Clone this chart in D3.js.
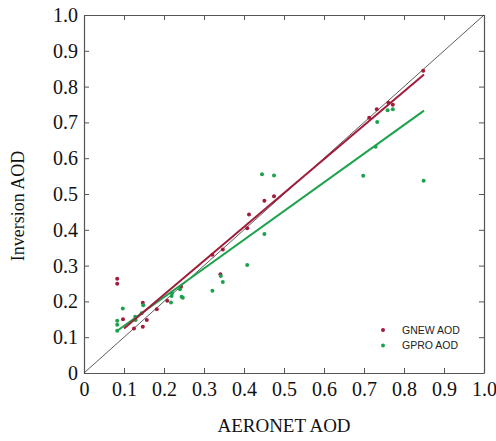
<!DOCTYPE html>
<html>
<head>
<meta charset="utf-8">
<script src="https://cdn.jsdelivr.net/npm/d3@7"></script>
<style>
  body { margin: 0; background: #fff; }
  svg { display: block; }
</style>
</head>
<body>
<div id="chart"></div>
<script>
// ---- data
var tickValues = [0, 0.1, 0.2, 0.3, 0.4, 0.5, 0.6, 0.7, 0.8, 0.9, 1.0];
var tickLabels = ["0", "0.1", "0.2", "0.3", "0.4", "0.5", "0.6", "0.7", "0.8", "0.9", "1.0"];

// GNEW AOD (red)
var gnewX = [0.083, 0.083, 0.0975, 0.125, 0.147, 0.157, 0.147, 0.182, 0.208, 0.2425, 0.321, 0.341, 0.347, 0.408, 0.4125, 0.451, 0.475, 0.713, 0.732, 0.761, 0.772, 0.848];
var gnewY = [0.263, 0.249, 0.150, 0.124, 0.129, 0.148, 0.196, 0.178, 0.202, 0.241, 0.330, 0.276, 0.345, 0.404, 0.443, 0.481, 0.494, 0.713, 0.737, 0.755, 0.749, 0.844];

// GPRO AOD (green)
var gproX = [0.083, 0.083, 0.083, 0.097, 0.128, 0.129, 0.144, 0.148, 0.2175, 0.219, 0.220, 0.240, 0.244, 0.247, 0.321, 0.342, 0.347, 0.408, 0.445, 0.451, 0.475, 0.698, 0.729, 0.733, 0.759, 0.772, 0.849];
var gproY = [0.146, 0.135, 0.118, 0.180, 0.157, 0.148, 0.167, 0.189, 0.197, 0.215, 0.223, 0.234, 0.213, 0.210, 0.230, 0.271, 0.254, 0.302, 0.555, 0.388, 0.552, 0.551, 0.632, 0.701, 0.734, 0.737, 0.537];

// fitted lines (end points)
var gnewFitX = [0.10, 0.85];
var gnewFitY = [0.1245, 0.834];
var gproFitX = [0.083, 0.85];
var gproFitY = [0.118, 0.733];
var oneToOne = [0, 1];

var RED = "#a11c3a", GREEN = "#1ba34c";

// ---- layout
var W = 496, H = 441;
var margin = {top: 15, right: 12, bottom: 68, left: 84};
var width = 400, height = 358;

var svg = d3.select("#chart").append("svg")
    .attr("width", W).attr("height", H);

var g = svg.append("g")
    .attr("transform", "translate(" + margin.left + "," + margin.top + ")");

var x = d3.scaleLinear().domain([0, 1]).range([0, width]);
var y = d3.scaleLinear().domain([0, 1]).range([height, 0]);

// axes: ticks inward on all four sides
function styleAxis(sel) {
  sel.selectAll("path").attr("stroke", "#555").attr("stroke-width", 1.2);
  sel.selectAll("line").attr("stroke", "#555");
}
var fmt = function(d, i) { return tickLabels[i]; };

g.append("g").attr("transform", "translate(0," + height + ")")
  .call(d3.axisBottom(x).tickValues(tickValues).tickFormat(fmt).tickSizeInner(-5).tickSizeOuter(0).tickPadding(9))
  .call(styleAxis)
  .call(function(s) {
    s.selectAll("text").attr("font-family", "Liberation Serif, serif").attr("font-size", 20).attr("fill", "#111");
  });

g.append("g")
  .call(d3.axisLeft(y).tickValues(tickValues).tickFormat(fmt).tickSizeInner(-5).tickSizeOuter(0).tickPadding(6))
  .call(styleAxis)
  .call(function(s) {
    s.selectAll("text").attr("font-family", "Liberation Serif, serif").attr("font-size", 20).attr("fill", "#111");
  });

g.append("g")
  .call(d3.axisTop(x).tickValues(tickValues).tickFormat("").tickSizeInner(-5).tickSizeOuter(0))
  .call(styleAxis);

g.append("g").attr("transform", "translate(" + width + ",0)")
  .call(d3.axisRight(y).tickValues(tickValues).tickFormat("").tickSizeInner(-5).tickSizeOuter(0))
  .call(styleAxis);

// 1:1 line
g.append("line")
  .attr("x1", x(oneToOne[0])).attr("y1", y(oneToOne[0]))
  .attr("x2", x(oneToOne[1])).attr("y2", y(oneToOne[1]))
  .attr("stroke", "#333").attr("stroke-width", 0.8);

// points
function drawPoints(xs, ys, color) {
  g.append("g").selectAll("circle")
    .data(xs)
    .enter()
    .append("circle")
      .attr("cx", function(d) { return x(d); })
      .attr("cy", function(d, i) { return y(ys[i]); })
      .attr("r", 2)
      .attr("fill", color);
}
drawPoints(gnewX, gnewY, RED);
drawPoints(gproX, gproY, GREEN);

// fit lines
var line = d3.line().x(function(d) { return x(d[0]); }).y(function(d) { return y(d[1]); });
g.append("path")
  .datum(gproFitX.map(function(d, i) { return [d, gproFitY[i]]; }))
  .attr("d", line).attr("fill", "none").attr("stroke", GREEN).attr("stroke-width", 2);
g.append("path")
  .datum(gnewFitX.map(function(d, i) { return [d, gnewFitY[i]]; }))
  .attr("d", line).attr("fill", "none").attr("stroke", RED).attr("stroke-width", 2);

// legend
var legend = [["GNEW AOD", RED], ["GPRO AOD", GREEN]];
var lg = g.append("g").attr("transform", "translate(" + (width - 101) + "," + (height - 43) + ")");
legend.forEach(function(d, i) {
  lg.append("circle").attr("cx", 0).attr("cy", i * 15.5).attr("r", 2).attr("fill", d[1]);
  lg.append("text").attr("x", 19).attr("y", i * 15.5).attr("dy", "0.35em")
    .attr("font-family", "Liberation Sans, Arial, sans-serif").attr("font-size", 10.5)
    .attr("fill", "#222").text(d[0]);
});

// axis titles
svg.append("text")
  .attr("x", margin.left + width / 2).attr("y", 432)
  .attr("text-anchor", "middle")
  .attr("font-family", "Liberation Serif, serif").attr("font-size", 19).attr("fill", "#111")
  .text("AERONET AOD");

svg.append("text")
  .attr("transform", "translate(24," + (margin.top + 191) + ") rotate(-90)")
  .attr("text-anchor", "middle")
  .attr("font-family", "Liberation Serif, serif").attr("font-size", 18).attr("fill", "#111")
  .text("Inversion AOD");
</script>
</body>
</html>
